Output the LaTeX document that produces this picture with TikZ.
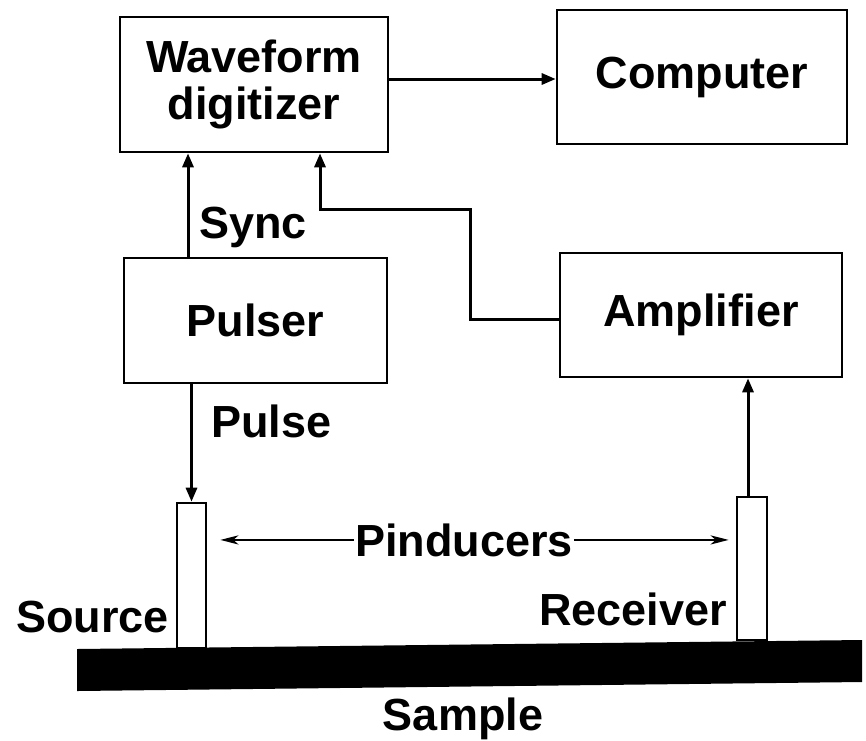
\documentclass[tikz,border=0pt]{standalone}
\usepackage{fontspec}
\setmainfont{Liberation Sans}
\usetikzlibrary{arrows.meta,calc}

\begin{document}
\begin{tikzpicture}[x=1pt,y=-1pt,
  every node/.style={font=\fontsize{45}{47}\selectfont\bfseries, inner sep=0pt},
  blockbox/.style={draw, line width=2.6pt, align=center},
  link/.style={line width=3pt, -{Triangle[length=14pt,width=11pt]}},
  pinarrow/.style={line width=2.6pt, -{Stealth[length=18pt,width=9pt,inset=5pt]}},
  pin/.style={draw, line width=2.6pt, fill=white}]

  \useasboundingbox (0,0) rectangle (866,740);

  % instrument blocks
  \node[blockbox, minimum width=268pt, minimum height=135pt] (wd) at (254,84.5) {Waveform\\digitizer};
  \node[blockbox, minimum width=290pt, minimum height=134pt] (comp) at (702,77) {Computer};
  \node[blockbox, minimum width=263pt, minimum height=125pt] (pul) at (255.5,320.5) {Pulser};
  \node[blockbox, minimum width=282pt, minimum height=124pt] (amp) at (701,315) {Amplifier};

  % sample bar and the two pinducers standing on it
  \fill (77,649) -- (862,640) -- (862,682) -- (77,691) -- cycle;
  \node[pin, minimum width=29pt, minimum height=145pt] (src) at (191.5,575.5) {};
  \node[pin, minimum width=30pt, minimum height=143pt] (rcv) at (752,568.5) {};

  % labels
  \node[anchor=base west] (sync) at (199,238) {Sync};
  \node[anchor=base west] (pulse) at (211,437) {Pulse};
  \node[anchor=base] (pind) at (464,556) {Pinducers};
  \node[anchor=base east] (source) at (169,632) {Source};
  \node[anchor=base east] (recv) at (727,625) {Receiver};
  \node[anchor=base] (sample) at (463,730) {Sample};

  % signal paths
  \draw[link] ([yshift=5.5pt]wd.east) -- ([yshift=5.5pt]wd.east -| comp.west);
  \draw[link] ([xshift=-67.5pt]pul.north) -- ([xshift=-67.5pt]pul.north |- wd.south);
  \coordinate (bend) at (470,209);
  \draw[link] ([yshift=-4pt]amp.west) -| (bend) -| ([xshift=66pt]wd.south);
  \draw[link] (src.north |- pul.south) -- (src.north);
  \draw[link] ([xshift=-4pt]rcv.north) -- ([xshift=-4pt]rcv.north |- amp.south);

  % pinducer pointers
  \draw[pinarrow] ([xshift=-1pt]pind.west) -- ([xshift=13pt]pind.west -| src.east);
  \draw[pinarrow] ([xshift=1pt]pind.east) -- ([xshift=-7pt]pind.east -| rcv.west);
\end{tikzpicture}
\end{document}
